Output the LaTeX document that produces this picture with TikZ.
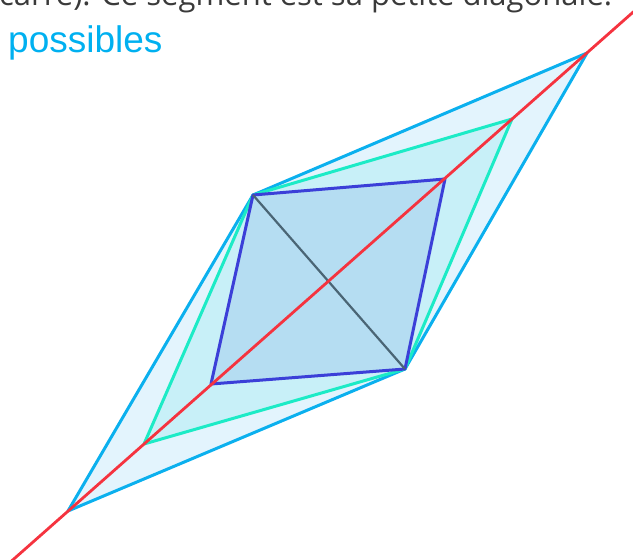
\documentclass[tikz,border=0pt]{standalone}
\usepackage{fontspec}
\setmainfont{Liberation Sans}
\newfontfamily\opensans{Open Sans}
\usepackage{tikz}
\usetikzlibrary{positioning}
\definecolor{cyanline}{HTML}{0BB0EE}
\definecolor{cyanfill}{HTML}{E3F4FD}
\definecolor{aqualine}{HTML}{1CEBC6}
\definecolor{aquafill}{HTML}{C8F0F8}
\definecolor{squareline}{HTML}{3B3FD8}
\definecolor{squarefill}{HTML}{B5DDF2}
\definecolor{slate}{HTML}{4A6575}
\definecolor{redline}{HTML}{F5333F}
\definecolor{darktext}{HTML}{3A3A3A}
\definecolor{legend}{HTML}{00B0F0}
\tikzset{
  outer/.style={draw=cyanline, fill=cyanfill, line width=3pt, line join=round},
  middle/.style={draw=aqualine, fill=aquafill, line width=3pt, line join=round},
  square/.style={draw=squareline, fill=squarefill, line width=3pt, line join=round},
  diag/.style={draw=slate, line width=2.2pt},
  axis/.style={draw=redline, line width=2.8pt},
  title/.style={font=\opensans\fontsize{31}{34}\selectfont, text=darktext, inner sep=0pt, anchor=base west},
  legendtext/.style={font=\fontsize{37}{40}\selectfont, text=legend, inner sep=0pt, anchor=base west}
}
\begin{document}
\begin{tikzpicture}[x=1pt, y=-1pt]
\useasboundingbox (0,0) rectangle (633,560);
\clip (0,0) rectangle (633,560);
\node[title] (titre) at (-1,5.5) {carré). Ce segment est sa petite diagonale.};
\node[legendtext] (possibles) at (8,52) {possibles};
% petite diagonale et sommets sur la droite rouge
\coordinate (diagN) at (253,195);
\coordinate (diagS) at (405,369);
\coordinate (outerN) at (587,53);
\coordinate (outerS) at (68,511);
\coordinate (midN) at (512,119);
\coordinate (midS) at (144,444);
\coordinate (sqN) at (445,179);
\coordinate (sqS) at (211,384);
\coordinate (lineN) at (691,-39);
\coordinate (lineS) at (-36,603);
\draw[outer] (diagN) -- (outerN) -- (diagS) -- (outerS) -- cycle;
\draw[middle] (diagN) -- (midN) -- (diagS) -- (midS) -- cycle;
\draw[square] (diagN) -- (sqN) -- (diagS) -- (sqS) -- cycle;
\draw[diag] (diagN) -- (diagS);
\draw[axis] (lineS) -- (lineN);
\end{tikzpicture}
\end{document}
